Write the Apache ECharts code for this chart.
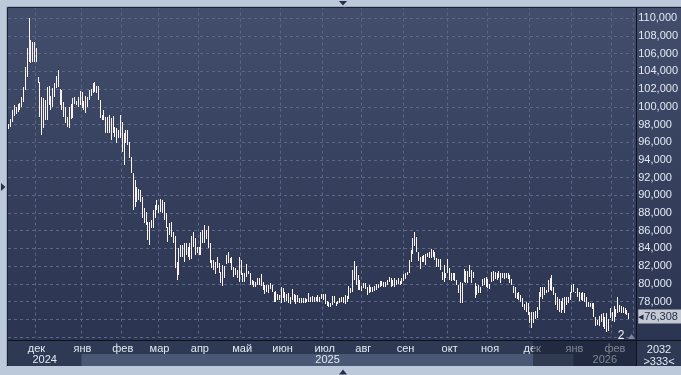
<!DOCTYPE html>
<html><head><meta charset="utf-8">
<script src="https://cdn.jsdelivr.net/npm/echarts@6/dist/echarts.min.js"></script>
<style>html,body{margin:0;padding:0;background:#bcc9da;}#c{width:681px;height:375px;}</style>
</head><body><div id="c"></div>
<script>
// ---- data ----
const highs = [98060,98660,99640,100200,100010,100280,100390,101070,102270,104530,106610,110070,107550,107360,107360,106610,103400,102840,101070,100960,100770,102200,102350,101220,102090,102650,103480,104160,102010,101900,100580,100010,98880,100010,100300,100960,101070,100600,101070,101750,101710,100690,101220,101140,101900,101970,102730,102840,102350,102350,100770,99070,99640,98880,98880,99070,98700,98960,97750,97570,97380,99070,98320,97000,97380,97380,96060,94360,92480,91730,90970,90670,90600,89840,88530,88150,87020,87020,87210,88340,88900,89470,88900,89540,89470,89280,87960,86450,86830,87020,85890,85400,82500,84010,84380,84380,84570,84570,84190,84570,85400,85890,85140,84190,84190,85890,86080,86640,86080,86530,84570,82690,82690,82500,82990,82390,81370,82120,82050,83250,83630,82880,83060,81930,81750,81560,83060,82690,81180,81180,82200,81440,81180,80430,80310,80240,80690,80690,81070,80240,79860,79860,79860,80130,79860,79110,79180,78810,78730,79670,79490,79110,78810,78920,78540,79410,78810,78730,78730,78360,78430,78430,78360,78280,78920,78540,78660,78540,78540,78730,78540,78810,78810,78810,78050,77900,77790,78660,78660,77980,78050,78430,78540,78540,78730,78660,79790,79560,81560,82580,82050,80990,80430,79790,80050,80050,79670,79860,79670,79670,79790,79940,79940,80310,80310,80240,80160,80430,80800,80620,80430,80690,80430,80620,80310,80620,81070,81180,81370,82690,83820,85140,85810,85330,83550,83060,83180,83250,83370,83520,83630,83890,83820,83630,82880,82760,82760,81370,82120,81260,82760,81750,81180,81260,81180,80430,79860,80240,80130,81630,81480,81480,82120,81560,81370,80050,79750,79860,79670,80500,80620,80730,80500,79980,81370,81480,81370,81260,81480,81180,81180,81260,81180,81180,80990,80500,79750,79670,79000,79110,78730,78360,77720,77980,77870,76850,76850,76850,76960,77410,79110,79670,79600,79670,79300,80430,80620,80990,79600,78920,78540,78240,78090,78360,78540,78540,78470,79110,79860,79980,79110,79490,79110,79000,79110,78920,78470,77980,77870,77870,77790,76280,75910,76360,76590,76660,76280,76660,75980,77230,76850,77490,77110,78470,77600,77490,77340,77230,77040,76740];
const lows = [97450,97680,98320,98960,99190,99450,99640,100010,100580,101900,103400,105100,104910,105100,105100,105100,102730,98880,96810,97570,98510,98510,100200,99640,100010,101140,102090,102270,100200,99640,98880,98130,97750,97570,98600,98700,100320,100250,100010,100200,99830,99640,99260,100010,100770,101220,101520,101710,101600,100770,98700,98510,98510,97000,97000,97000,96250,97000,96620,95870,96440,96440,94930,93420,95870,95680,94180,92480,88340,88710,89280,89470,89280,87400,86830,86640,84950,84380,86270,86270,87400,88340,87960,88150,87960,87210,86270,84760,85510,85320,84570,81740,80430,80990,83060,83060,82500,83250,83060,82690,82760,84190,83250,83440,83250,83250,84570,84570,85020,84010,82310,81740,81560,81070,81750,81180,80050,79790,80620,82200,82310,82310,81560,80800,80990,80690,80240,80990,80240,80240,80800,81070,79860,79860,79670,79670,79860,79860,79790,79300,78810,79110,78920,79410,79030,77900,77980,78170,78170,77790,78360,77900,78050,77790,77680,78170,77900,77680,77900,77790,77790,77790,77790,77900,77900,77900,77980,77900,78050,77980,77980,78280,78170,77680,77530,77410,77410,77600,77790,77530,77680,77790,77900,77790,77680,77980,78280,78920,79110,80430,79860,79300,79300,79190,79490,79410,78730,78920,79110,79110,79190,79300,79490,79670,79790,79670,79670,79860,80160,79670,79790,79670,79860,79940,79860,79940,80310,80540,80990,81180,82500,83330,84310,83630,82580,81670,82420,82500,82120,83070,82880,82880,83070,82690,81930,81860,81560,80430,80240,80620,81180,80430,80350,80430,80350,79860,79000,77870,77870,80240,80050,80050,80800,80050,80620,78360,78730,78920,79000,79750,79860,79670,79490,79370,80240,80350,80500,80430,80620,80130,80620,80500,80620,80500,80130,79860,79000,78360,78240,78170,77980,77410,77040,76850,76470,75530,74970,75530,75980,76100,77040,78540,78240,78730,78920,79110,79300,79220,78730,77600,77040,76850,76660,77040,76740,77600,77870,78170,78920,79110,78920,78540,78090,78170,78090,77980,77410,77340,77410,77110,76210,75230,75340,75230,75720,75150,74850,74590,74700,76100,75830,75720,76210,76660,76850,76740,76660,76590,76470,75980];
const lastPrice = 76308;
const monthNames = ['дек','янв','фев','мар','апр','май','июн','июл','авг','сен','окт','ноя','дек','янв','фев'];
const monthStart = [15,40,62,82,104,127,149,172,193,216,240,262,285,308,330];
const years = ['2024','2025','2026'];
const yearStart = [0,40,308];
const yTicksShown = [78000,110000];
const CAT_COUNT = 342;

// ---- layout ----
const L = 8, R = 636, T = 8, B = 340;
const pitch = (R - L) / CAT_COUNT;
const categories = [];
for (let i = 0; i < CAT_COUNT; i++) categories.push(String(i));
const labelAt = {};
monthStart.forEach((k, j) => labelAt[k] = monthNames[j]);
const isMonth = (idx) => labelAt[idx] !== undefined;
const barColor = '#fbf3ee';
const font = 'Liberation Sans';

const chart = echarts.init(document.getElementById('c'), null, {renderer: 'canvas'});

const graphics = [];
const bgGrad = new echarts.graphic.LinearGradient(0, 0, 0, 1, [{offset: 0, color: '#424e6c'}, {offset: 1, color: '#2b3451'}]);
graphics.push({type: 'rect', z: -10, shape: {x: L, y: T, width: 681 - L, height: B - T}, style: {fill: bgGrad}, silent: true});
graphics.push({type: 'rect', z: 5, shape: {x: L, y: B, width: 681 - L, height: 366 - B}, style: {fill: '#2e3954'}, silent: true});
const yearEnds = yearStart.slice(1).concat([CAT_COUNT]);
years.forEach((y, j) => {
  const x0 = L + yearStart[j] * pitch, x1 = L + yearEnds[j] * pitch;
  graphics.push({type: 'rect', z: 6, shape: {x: x0, y: 354, width: x1 - x0, height: 12}, style: {fill: j % 2 === 1 ? '#4b5875' : '#2e3954'}, silent: true});
  graphics.push({type: 'text', z: 11, x: (x0 + x1) / 2, y: 360, style: {text: y, fill: '#e3e9f3', font: '11px ' + font, align: 'center', verticalAlign: 'middle'}, silent: true});
});
graphics.push({type: 'rect', z: 12, shape: {x: 533, y: B + 1, width: R - 533, height: 366 - B - 1}, style: {fill: 'rgba(22,28,45,0.5)'}, silent: true});
graphics.push({type: 'rect', z: 12, shape: {x: R, y: B, width: 681 - R, height: 366 - B}, style: {fill: '#2e3954'}, silent: true});
graphics.push({type: 'text', z: 13, x: 659, y: 350, style: {text: '2032', fill: '#e3e9f3', font: '11px ' + font, align: 'center', verticalAlign: 'middle'}, silent: true});
graphics.push({type: 'text', z: 13, x: 659, y: 362, style: {text: '>333<', fill: '#e3e9f3', font: '11px ' + font, align: 'center', verticalAlign: 'middle'}, silent: true});
graphics.push({type: 'line', z: 15, shape: {x1: L, y1: B + 0.5, x2: 681, y2: B + 0.5}, style: {stroke: '#0e121c', lineWidth: 1}, silent: true});
graphics.push({type: 'line', z: 15, shape: {x1: R + 0.5, y1: T, x2: R + 0.5, y2: 366}, style: {stroke: '#0e121c', lineWidth: 1}, silent: true});
graphics.push({type: 'rect', z: 20, shape: {x: 0, y: 0, width: 681, height: T}, style: {fill: '#bcc9da'}, silent: true});
graphics.push({type: 'rect', z: 20, shape: {x: 0, y: 0, width: L, height: 375}, style: {fill: '#bcc9da'}, silent: true});
graphics.push({type: 'rect', z: 20, shape: {x: 0, y: 366, width: 681, height: 9}, style: {fill: '#bcc9da'}, silent: true});
graphics.push({type: 'polyline', z: 21, shape: {points: [[L - 0.5, 366], [L - 0.5, T - 0.5], [681, T - 0.5]]}, style: {stroke: '#1a2131', fill: null, lineWidth: 1}, silent: true});
graphics.push({type: 'polyline', z: 21, shape: {points: [[L - 1.5, 367], [L - 1.5, T - 1.5], [681, T - 1.5]]}, style: {stroke: '#9eacc0', fill: null, lineWidth: 1}, silent: true});
graphics.push({type: 'polygon', z: 22, shape: {points: [[339, 1], [347, 1], [343, 5.5]]}, style: {fill: '#27304a'}, silent: true});
graphics.push({type: 'polygon', z: 22, shape: {points: [[1, 183], [1, 191], [5.5, 187]]}, style: {fill: '#27304a'}, silent: true});
graphics.push({type: 'polygon', z: 22, shape: {points: [[339, 374.5], [347, 374.5], [343, 369.5]]}, style: {fill: '#27304a'}, silent: true});
graphics.push({type: 'text', z: 9, x: 621, y: 336, style: {text: '2', fill: '#eef2f8', font: '12px ' + font, align: 'center', verticalAlign: 'middle'}, silent: true});
graphics.push({type: 'polygon', z: 9, shape: {points: [[628, 339], [635, 339], [631.5, 334]]}, style: {fill: '#7e899c'}, silent: true});

const option = {
  animation: false,
  textStyle: {fontFamily: font},
  grid: [
    {left: L, right: 681 - R, top: 0.6, height: 336.3, containLabel: false},
    {left: L, right: 681 - R, top: 330, height: 10, containLabel: false}
  ],
  xAxis: [
    {type: 'category', gridIndex: 0, data: categories, boundaryGap: true,
     axisLine: {show: false}, axisTick: {show: false}, axisLabel: {show: false},
     splitLine: {show: true, interval: (idx) => isMonth(idx), lineStyle: {color: '#5a6786', type: [3, 3], width: 1}}},
    {type: 'category', gridIndex: 1, data: categories, boundaryGap: true, z: 10,
     axisLine: {show: false}, axisTick: {show: false}, splitLine: {show: false},
     axisLabel: {show: true, interval: (idx) => isMonth(idx), formatter: (v, idx) => labelAt[idx] || '',
                 color: '#e3e9f3', fontSize: 11, margin: 3, fontFamily: font}}
  ],
  yAxis: [
    {type: 'value', gridIndex: 0, position: 'right', min: 74000, max: 112000, interval: 2000, scale: true,
     axisLine: {show: false}, axisTick: {show: false},
     axisLabel: {color: '#e3e9f3', fontSize: 11, margin: 5, fontFamily: font,
                 formatter: (v) => (v >= yTicksShown[0] && v <= yTicksShown[1]) ? v.toLocaleString('en-US') : ''},
     splitLine: {show: true, lineStyle: {color: '#5a6786', type: [3, 3], width: 1}}},
    {type: 'value', gridIndex: 1, show: false}
  ],
  series: [{
    type: 'custom',
    xAxisIndex: 0, yAxisIndex: 0,
    data: highs.map((h, i) => [i, lows[i], h]),
    encode: {x: 0, y: [1, 2]},
    renderItem: function (params, api) {
      const x = api.value(0);
      const top = api.coord([x, api.value(2)]);
      const bot = api.coord([x, api.value(1)]);
      const px = Math.round(top[0] - 0.5);
      const y0 = Math.round(top[1]);
      const y1 = Math.round(bot[1]);
      return {type: 'rect', shape: {x: px, y: y0, width: 1, height: Math.max(1, y1 - y0)}, style: {fill: barColor}};
    },
    markLine: {
      silent: true, symbol: 'none', animation: false,
      lineStyle: {color: 'rgba(0,0,0,0)', width: 1},
      data: [{yAxis: lastPrice}],
      label: {show: true, position: 'end', distance: 5, formatter: () => '◂' + lastPrice.toLocaleString('en-US'),
              backgroundColor: '#c4c9d2', color: '#1f2c4a', fontSize: 11, fontFamily: font, padding: [2, 6, 1, 0]}
    }
  }],
  graphic: {elements: graphics}
};
chart.setOption(option);
</script>
</body></html>
